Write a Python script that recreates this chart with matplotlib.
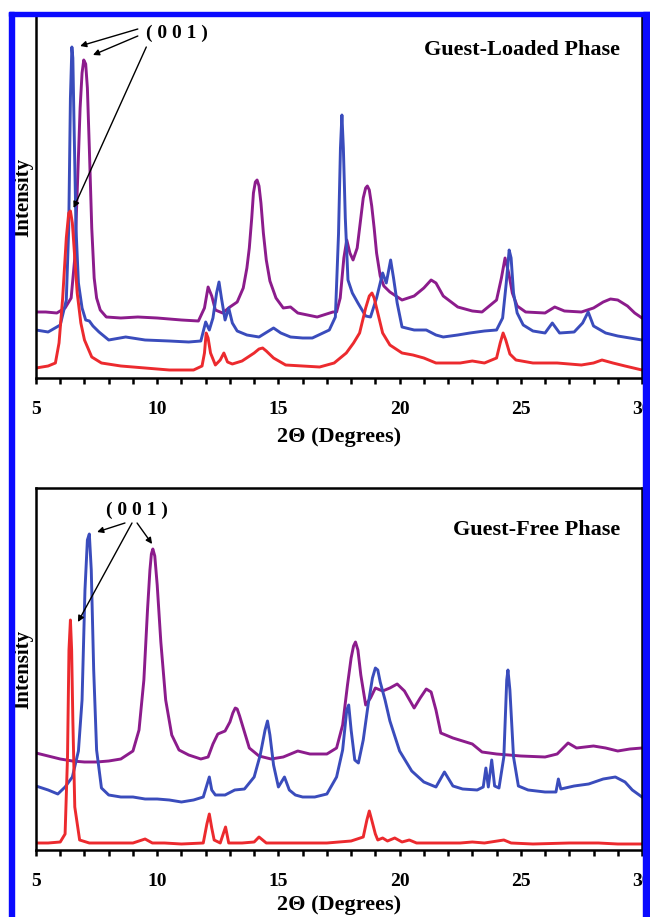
import matplotlib
matplotlib.use("Agg")
import matplotlib.pyplot as plt
from matplotlib.patches import Rectangle

plt.rcParams['font.family'] = ['Liberation Serif', 'DejaVu Serif']
plt.rcParams['font.weight'] = 'bold'

# --- guest-loaded phase (upper panel) ---
loaded_purple_x = [5.0, 5.4, 5.86, 6.2, 6.45, 6.6, 6.72, 6.82, 6.9, 6.97, 7.05, 7.12, 7.2, 7.3, 7.4, 7.5,
                   7.65, 7.9, 8.5, 9.2, 10, 11, 11.7, 11.95, 12.1, 12.25, 12.4, 12.7, 13.0, 13.3, 13.55,
                   13.7, 13.8, 13.9, 13.97, 14.05, 14.12, 14.2, 14.28, 14.38, 14.5, 14.65, 14.9, 15.2,
                   15.5, 15.8, 16.6, 17.25, 17.4, 17.55, 17.7, 17.82, 17.95, 18.08, 18.25, 18.4, 18.5,
                   18.6, 18.67, 18.75, 18.85, 18.95, 19.05, 19.2, 19.35, 19.6, 20.1, 20.6, 21.0, 21.3,
                   21.5, 21.8, 22.4, 23.0, 23.4, 24.0, 24.2, 24.35, 24.5, 24.65, 24.85, 25.2, 26.0, 26.4,
                   26.8, 27.5, 28.0, 28.4, 28.7, 29.0, 29.4, 29.7, 30.0]
loaded_purple_y = [66, 66, 65, 70, 80, 120, 200, 270, 305, 318, 314, 290, 230, 150, 100, 80,
                   68, 61, 60, 61, 60, 58, 57, 70, 91, 82, 68, 65, 71, 76, 90,
                   110, 130, 160, 185, 196, 198, 192, 175, 145, 118, 97, 80, 70,
                   71, 65, 61, 66, 66, 80, 120, 138, 125, 118, 130, 160, 180,
                   190, 192, 188, 172, 150, 125, 102, 92, 86, 78, 82, 90, 98,
                   95, 82, 71, 67, 66, 78, 100, 120, 105, 85, 72, 66, 65, 71,
                   67, 66, 70, 76, 79, 78, 72, 65, 60]

loaded_blue_x = [5.0, 5.5, 6.0, 6.25, 6.35, 6.42, 6.48, 6.52, 6.58, 6.65, 6.75, 6.9, 7.05, 7.2, 7.35, 7.6,
                 8.0, 8.7, 9.5, 10.5, 11.3, 11.8, 12.0, 12.15, 12.3, 12.45, 12.55, 12.65, 12.8, 12.95,
                 13.1, 13.3, 13.7, 14.2, 14.8, 15.1, 15.5, 16.0, 16.4, 17.1, 17.35, 17.48, 17.56, 17.62,
                 17.68, 17.76, 17.87, 18.05, 18.28, 18.6, 18.8, 19.05, 19.3, 19.45, 19.63, 19.75, 19.9,
                 20.1, 20.6, 21.1, 21.5, 21.8, 22.4, 22.9, 23.5, 24.0, 24.25, 24.4, 24.52, 24.6, 24.7,
                 24.85, 25.1, 25.5, 26.0, 26.3, 26.6, 27.2, 27.55, 27.78, 28.0, 28.5, 29.0, 29.5, 30.0]
loaded_blue_y = [48, 46, 53, 78, 150, 280, 331, 320, 240, 150, 95, 70, 58, 57, 52, 46,
                 38, 41, 38, 37, 36, 37, 56, 48, 60, 85, 96, 80, 58, 70,
                 55, 47, 43, 41, 50, 45, 41, 40, 40, 48, 61, 144, 230, 263,
                 230, 160, 98, 85, 75, 62, 61, 80, 105, 95, 118, 100, 75,
                 51, 48, 48, 43, 41, 43, 45, 47, 48, 60, 95, 128, 120, 85,
                 65, 53, 47, 45, 55, 45, 46, 55, 66, 52, 45, 42, 40, 38]

loaded_red_x = [5.0, 5.5, 5.8, 5.95, 6.1, 6.25, 6.35, 6.42, 6.5, 6.6, 6.7, 6.85, 7.0, 7.3, 7.7, 8.5,
                9.5, 10.5, 11.5, 11.85, 11.95, 12.02, 12.1, 12.2, 12.4, 12.6, 12.75, 12.9, 13.1, 13.5,
                14.0, 14.2, 14.35, 14.5, 14.8, 15.3, 16.0, 16.7, 17.3, 17.8, 18.1, 18.35, 18.6, 18.75,
                18.86, 18.95, 19.1, 19.3, 19.6, 20.1, 20.55, 21.0, 21.5, 22.0, 22.5, 23.0, 23.5, 24.0,
                24.15, 24.27, 24.38, 24.55, 24.8, 25.5, 26.5, 27.5, 28.0, 28.35, 28.8, 29.3, 30.0]
loaded_red_y = [10, 12, 15, 35, 80, 140, 165, 167, 155, 120, 85, 55, 38, 21, 15, 12,
                10, 8, 8, 12, 25, 45, 40, 25, 13, 18, 25, 16, 14, 17,
                25, 29, 30, 27, 20, 13, 12, 11, 15, 25, 35, 45, 70, 82,
                85, 80, 65, 45, 33, 25, 23, 20, 15, 15, 15, 17, 15, 20,
                35, 45, 38, 24, 18, 15, 15, 13, 15, 18, 15, 12, 8]

# --- guest-free phase (lower panel) ---
free_purple_x = [5.0, 5.5, 6.0, 6.5, 7.0, 7.5, 8.0, 8.5, 9.0, 9.25, 9.45, 9.6, 9.7, 9.76, 9.82, 9.9,
                 10.0, 10.15, 10.35, 10.6, 10.9, 11.3, 11.8, 12.1, 12.3, 12.5, 12.8, 13.0, 13.12, 13.22,
                 13.3, 13.4, 13.55, 13.8, 14.2, 14.7, 15.2, 15.8, 16.3, 17.0, 17.4, 17.65, 17.85, 18.0,
                 18.1, 18.18, 18.28, 18.4, 18.6, 18.8, 19.0, 19.3, 19.6, 19.9, 20.2, 20.6, 20.85, 21.1,
                 21.3, 21.5, 21.7, 22.2, 22.6, 23.0, 23.4, 24.0, 24.5, 25.0, 26.0, 26.5, 26.95, 27.3,
                 28.0, 28.5, 29.0, 29.5, 30.0]
free_purple_y = [97, 94, 91, 89, 88, 88, 89, 91, 99, 120, 170, 240, 280, 296, 301, 294,
                 265, 208, 150, 115, 100, 95, 91, 93, 106, 116, 119, 128, 137, 142,
                 141, 134, 122, 102, 94, 91, 93, 99, 96, 96, 102, 125, 165, 192,
                 204, 208, 200, 175, 145, 152, 162, 159, 162, 166, 159, 142, 152, 161,
                 158, 140, 117, 112, 109, 106, 98, 96, 95, 94, 93, 96, 107, 102,
                 104, 102, 99, 101, 102]

free_blue_x = [5.0, 5.5, 5.9, 6.2, 6.5, 6.75, 6.9, 7.02, 7.12, 7.2, 7.28, 7.38, 7.5, 7.7, 8.0, 8.5,
               9.0, 9.5, 10.0, 10.5, 11.0, 11.5, 11.9, 12.05, 12.15, 12.25, 12.4, 12.8, 13.2, 13.6,
               14.0, 14.25, 14.45, 14.55, 14.65, 14.8, 15.0, 15.25, 15.45, 15.7, 16.0, 16.5, 17.0, 17.4,
               17.65, 17.82, 17.9, 18.0, 18.15, 18.3, 18.5, 18.7, 18.88, 19.0, 19.1, 19.2, 19.4, 19.6,
               20.0, 20.5, 21.0, 21.5, 21.85, 22.2, 22.6, 23.2, 23.45, 23.56, 23.66, 23.8, 23.92, 24.1,
               24.3, 24.42, 24.47, 24.55, 24.7, 24.9, 25.3, 26.0, 26.45, 26.55, 26.65, 27.2, 27.8, 28.4,
               28.9, 29.3, 29.6, 30.0]
free_blue_y = [64, 60, 56, 63, 73, 99, 150, 260, 310, 316, 280, 180, 100, 62, 55, 53,
               53, 51, 51, 50, 48, 50, 53, 65, 73, 60, 55, 55, 60, 61,
               73, 95, 120, 129, 115, 85, 63, 73, 60, 55, 53, 53, 56, 73,
               100, 140, 145, 120, 90, 87, 110, 145, 172, 182, 180, 168, 150, 129,
               99, 79, 68, 63, 78, 64, 61, 60, 63, 82, 63, 90, 64, 62,
               93, 170, 180, 160, 93, 64, 60, 58, 58, 71, 61, 64, 66, 71,
               73, 68, 60, 53]

free_red_x = [5.0, 5.5, 6.0, 6.2, 6.3, 6.36, 6.42, 6.47, 6.52, 6.6, 6.8, 7.2, 8.0, 9.0, 9.5, 9.8,
              10.3, 11.0, 11.9, 12.05, 12.15, 12.25, 12.35, 12.6, 12.75, 12.82, 12.95, 13.5, 14.0, 14.2,
              14.5, 15.5, 16.0, 17.0, 17.5, 18.0, 18.5, 18.65, 18.75, 18.85, 19.0, 19.1, 19.3, 19.5,
              19.8, 20.1, 20.4, 20.7, 21.5, 22.5, 23.0, 23.5, 24.3, 24.6, 25.5, 27.0, 28.2, 29.0, 30.0]
free_red_y = [7, 7, 8, 16, 93, 200, 230, 200, 130, 43, 10, 7, 7, 7, 11, 7,
              7, 6, 7, 26, 36, 22, 10, 7, 18, 23, 7, 7, 8, 13,
              7, 7, 7, 7, 8, 9, 13, 30, 39, 30, 16, 10, 12, 9,
              12, 8, 10, 7, 7, 7, 8, 7, 10, 7, 6, 7, 7, 6, 6]

RED = '#ec2a2e'
BLUE = '#3a4cbc'
PURPLE = '#8c1c8c'

W, H = 650, 917
fig = plt.figure(figsize=(W / 100, H / 100), dpi=100)


def px_axes(left, top, right, bottom):
    return fig.add_axes([left / W, 1 - bottom / H, (right - left) / W, (bottom - top) / H])


def style(ax, label_y):
    ax.set_xlim(5, 30)
    ax.set_ylim(0, 362)
    ax.set_yticks([])
    ax.set_xticks(range(5, 31))
    ax.set_xticklabels([str(v) if v % 5 == 0 else '' for v in range(5, 31)])
    ax.tick_params(axis='x', direction='out', length=4.5, width=1.8, pad=12, labelsize=14)
    for s in ax.spines.values():
        s.set_linewidth(1.8)
    ax.set_ylabel('Intensity', fontsize=15, fontweight='bold')
    ax.yaxis.set_label_coords(-0.004, 0.5)
    ax.set_xlabel('2\u0398 (Degrees)', fontsize=16, fontweight='bold', va='center')
    ax.xaxis.set_label_coords(0.5, label_y)


arrow = dict(arrowstyle='-|>', color='black', lw=1.0, mutation_scale=9, shrinkA=0, shrinkB=0)

# upper panel
ax1 = px_axes(36, 16, 642, 378)
ax1.plot(loaded_purple_x, loaded_purple_y, color=PURPLE, lw=2.1)
ax1.plot(loaded_blue_x, loaded_blue_y, color=BLUE, lw=2.1)
ax1.plot(loaded_red_x, loaded_red_y, color=RED, lw=2.1)
style(ax1, -0.163)
ax1.spines['top'].set_visible(False)
ax1.text(0.964, 0.906, 'Guest-Loaded Phase', transform=ax1.transAxes, ha='right', va='center',
         fontsize=16, fontweight='bold')
ax1.text(10.82, 345, '( 0 0 1 )', ha='center', va='center', fontsize=14, fontweight='bold')
ax1.annotate('', xy=(6.82, 332), xytext=(9.2, 349), arrowprops=arrow)
ax1.annotate('', xy=(7.35, 323), xytext=(9.2, 342), arrowprops=arrow)
ax1.annotate('', xy=(6.55, 170), xytext=(9.55, 331), arrowprops=arrow)

# lower panel
ax2 = px_axes(36, 488, 642, 850)
ax2.plot(free_purple_x, free_purple_y, color=PURPLE, lw=2.1)
ax2.plot(free_blue_x, free_blue_y, color=BLUE, lw=2.1)
ax2.plot(free_red_x, free_red_y, color=RED, lw=2.1)
style(ax2, -0.152)
ax2.text(0.964, 0.884, 'Guest-Free Phase', transform=ax2.transAxes, ha='right', va='center',
         fontsize=16, fontweight='bold')
ax2.text(9.17, 340, '( 0 0 1 )', ha='center', va='center', fontsize=14, fontweight='bold')
ax2.annotate('', xy=(7.52, 318), xytext=(8.67, 327), arrowprops=arrow)
ax2.annotate('', xy=(6.73, 228), xytext=(8.96, 327), arrowprops=arrow)
ax2.annotate('', xy=(9.79, 306), xytext=(9.17, 327), arrowprops=arrow)

# blue frame around the figure
BORDER = '#0a0aff'
for x0, y0, x1, y1 in [(9, 12, 650, 16), (9, 12, 14, 917), (643, 12, 650, 917)]:
    fig.patches.append(Rectangle((x0 / W, 1 - y1 / H), (x1 - x0) / W, (y1 - y0) / H,
                                 transform=fig.transFigure, color=BORDER, zorder=10))

fig.savefig('out.png', dpi=100)
